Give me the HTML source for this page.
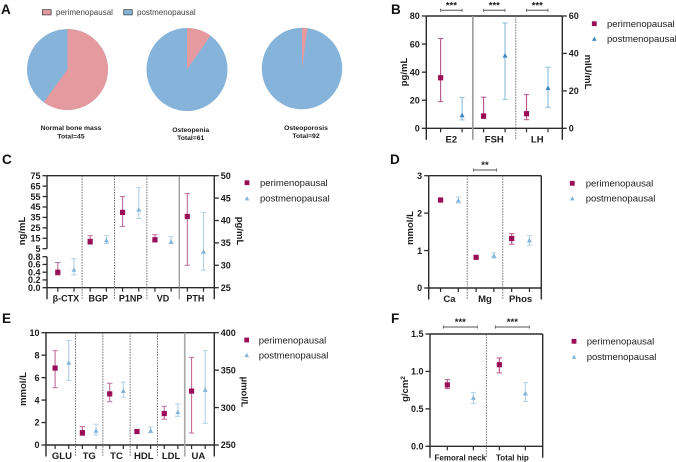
<!DOCTYPE html>
<html>
<head>
<meta charset="utf-8">
<style>
html,body{margin:0;padding:0;background:#fff;}
body{width:676px;height:462px;overflow:hidden;}
svg{display:block;filter:blur(0.35px);}
text{font-family:"Liberation Sans",sans-serif;fill:#1c1c1c;}
</style>
</head>
<body>
<svg id="figure" xmlns="http://www.w3.org/2000/svg" width="676" height="462" viewBox="0 0 676 462"></svg>
<script>
// Panel A data
const pieNames = ['Normal bone mass', 'Osteopenia', 'Osteoporosis'];
const pieTotals = [45, 61, 92];
const piePeri = [27, 6, 2];

// Panel B data
const bCategories = ['E2', 'FSH', 'LH'];
const bAxes = ['left', 'right', 'right'];
const bPeri = [36, 6.6, 7.8];
const bPeriLow = [19, 5.2, 4.6];
const bPeriHigh = [64, 16.6, 18];
const bPost = [9.5, 39, 21.7];
const bPostLow = [6, 15.5, 11.2];
const bPostHigh = [22, 56.3, 32.6];
const bLeftTicks = [0, 20, 40, 60, 80];
const bRightTicks = [0, 20, 40, 60];

// Panel C data
const cCategories = ['β-CTX', 'BGP', 'P1NP', 'VD', 'PTH'];
const cAxes = ['lower', 'upper', 'upper', 'upper', 'right'];
const cPeri = [0.4, 12, 39.8, 13.6, 40.9];
const cPeriLow = [0.33, 9.2, 26.4, 11.4, 30];
const cPeriHigh = [0.65, 17.5, 55, 18.4, 46];
const cPost = [0.47, 13.3, 42.7, 12, 33.1];
const cPostLow = [0.33, 10, 34, 10, 28.9];
const cPostHigh = [0.75, 17.5, 63.5, 16.5, 41.8];
const cUpperTicks = [5, 15, 25, 35, 45, 55, 65, 75];
const cLowerTicks = ['0.0', '0.2', '0.4', '0.6', '0.8'];
const cRightTicks = [25, 30, 35, 40, 45, 50];

// Panel D data
const dCategories = ['Ca', 'Mg', 'Phos'];
const dAxes = ['left', 'left', 'left'];
const dPeri = [2.35, 0.82, 1.32];
const dPeriLow = [2.31, 0.79, 1.17];
const dPeriHigh = [2.39, 0.85, 1.45];
const dPost = [2.35, 0.87, 1.28];
const dPostLow = [2.27, 0.8, 1.14];
const dPostHigh = [2.43, 0.94, 1.4];
const dLeftTicks = [0, 1, 2, 3];

// Panel E data
const eCategories = ['GLU', 'TG', 'TC', 'HDL', 'LDL', 'UA'];
const eAxes = ['left', 'left', 'left', 'left', 'left', 'right'];
const ePeri = [6.85, 1.1, 4.55, 1.2, 2.8, 322];
const ePeriLow = [5.1, 0.85, 3.85, 1.1, 2.3, 266];
const ePeriHigh = [8.4, 1.65, 5.5, 1.3, 3.45, 367];
const ePost = [7.35, 1.3, 4.85, 1.3, 2.95, 324];
const ePostLow = [5.75, 0.9, 4.25, 1.1, 2.55, 279];
const ePostHigh = [9.3, 1.85, 5.6, 1.6, 3.65, 376];
const eLeftTicks = [0, 2, 4, 6, 8, 10];
const eRightTicks = [250, 300, 350, 400];

// Panel F data
const fCategories = ['Femoral neck', 'Total hip'];
const fAxes = ['left', 'left'];
const fPeri = [0.82, 1.09];
const fPeriLow = [0.77, 0.98];
const fPeriHigh = [0.89, 1.18];
const fPost = [0.65, 0.71];
const fPostLow = [0.57, 0.6];
const fPostHigh = [0.72, 0.85];
const fLeftTicks = ['0.0', '0.5', '1.0', '1.5'];

const svg = document.getElementById('figure');
const NS = 'http://www.w3.org/2000/svg';
const INK = '#2b2b2b';
const PERI = '#990f57';

function mk(parent, tag, name, active, attrs, content) {
  const el = document.createElementNS(NS, tag);
  
  
  for (const k in attrs) el.setAttribute(k, attrs[k]);
  if (content !== undefined) el.textContent = content;
  parent.appendChild(el);
  return el;
}
function line(g, name, x1, y1, x2, y2, stroke, width, dash) {
  const a = {x1: x1, y1: y1, x2: x2, y2: y2, stroke: stroke, 'stroke-width': width};
  if (dash) a['stroke-dasharray'] = dash;
  return mk(g, 'line', name, false, a);
}
function linear(d0, d1, r0, r1) {
  return function (v) { return r0 + (Number(v) - d0) * (r1 - r0) / (d1 - d0); };
}
function marker(g, name, kind, x, y, color, s) {
  if (kind === 'square') {
    mk(g, 'rect', name, false, {x: x - s / 2, y: y - s / 2, width: s, height: s, fill: color});
  } else {
    const h = s * 0.92;
    mk(g, 'polygon', name, false, {points: (x - s / 2) + ',' + (y + h / 2) + ' ' + (x + s / 2) + ',' + (y + h / 2) + ' ' + x + ',' + (y - h / 2), fill: color});
  }
}
function errorBar(g, name, x, yLow, yHigh, color) {
  line(g, name + '-stem', x, yLow, x, yHigh, color, 1.15);
  line(g, name + '-cap-low', x - 2.7, yLow, x + 2.7, yLow, color, 1);
  line(g, name + '-cap-high', x - 2.7, yHigh, x + 2.7, yHigh, color, 1);
}
function panelLetter(letter, x, y) {
  mk(svg, 'text', 'panel-label-' + letter.toLowerCase(), false, {x: x, y: y, 'font-size': 13.5, 'font-weight': 'bold', style: 'fill:#111'}, letter);
}
function legend(g, mx, tx, y1, y2, postColor) {
  marker(g, 'legend-marker-perimenopausal', 'square', mx, y1, PERI, 4.8);
  mk(g, 'text', 'legend-label-perimenopausal', false, {x: tx, y: y1 + 3.3, 'font-size': 9.5}, 'perimenopausal');
  marker(g, 'legend-marker-postmenopausal', 'triangle', mx, y2, postColor, 4.6);
  mk(g, 'text', 'legend-label-postmenopausal', false, {x: tx, y: y2 + 3.3, 'font-size': 9.5}, 'postmenopausal');
}
function tickLabels(g, prefix, ticks, scale, x, side) {
  ticks.forEach(function (t) {
    const y = scale(t);
    const dir = side === 'left' ? -1 : 1;
    line(g, prefix + '-tick-' + t, x, y, x + dir * 4.5, y, INK, 1.3);
    mk(g, 'text', prefix + '-tick-label-' + t, false, {
      x: x + dir * 6.5, y: y + 3.2, 'font-size': 9, 'font-weight': 'bold',
      'text-anchor': side === 'left' ? 'end' : 'start'
    }, String(t));
  });
}
function drawPanel(p) {
  const g = mk(svg, 'g', 'panel-' + p.id + '-chart', false, {});
  const n = p.categories.length * 2;
  const step = (p.right - p.left) / (n - 1 + 4 / 3);
  const px = function (i) { return p.left + step * 2 / 3 + i * step; };
  const tail = p.bottom + 11.5;

  // frame
  line(g, 'panel-' + p.id + '-top-border', p.left, p.top, p.right, p.top, INK, 1.4);
  line(g, 'panel-' + p.id + '-baseline', p.left, p.bottom, p.right, p.bottom, INK, 1.4);
  line(g, 'panel-' + p.id + '-right-spine', p.right, p.top, p.right, tail, INK, 1.4);
  if (p.breakGap) {
    line(g, 'panel-c-left-spine-upper', p.left, p.top, p.left, p.breakGap[0], INK, 1.4);
    line(g, 'panel-c-left-spine-lower', p.left, p.breakGap[1], p.left, tail, INK, 1.4);
  } else {
    line(g, 'panel-' + p.id + '-left-spine', p.left, p.top, p.left, tail, INK, 1.4);
  }

  // separators
  p.categories.slice(1).forEach(function (c, i) {
    const x = px((i + 1) * 2 - 0.5);
    if (p.heavySep === i) line(g, 'panel-' + p.id + '-separator-' + i, x, p.top, x, tail, p.heavyColor, p.heavyWidth);
    else line(g, 'panel-' + p.id + '-separator-' + i, x, p.top, x, tail, '#666', 0.9, '1.6 1.1');
  });

  // x ticks + categories
  p.categories.forEach(function (c, i) {
    line(g, 'panel-' + p.id + '-xtick-' + c + '-a', px(2 * i), p.bottom, px(2 * i), p.bottom + 4, INK, 1.2);
    line(g, 'panel-' + p.id + '-xtick-' + c + '-b', px(2 * i + 1), p.bottom, px(2 * i + 1), p.bottom + 4, INK, 1.2);
    mk(g, 'text', 'panel-' + p.id + '-category-' + c, false, {
      x: (px(2 * i) + px(2 * i + 1)) / 2, y: p.bottom + 14, 'font-size': p.catSize, 'font-weight': 'bold', 'text-anchor': 'middle'
    }, c);
  });

  // axes
  p.axes.forEach(function (a) {
    tickLabels(g, 'panel-' + p.id + '-' + a.key, a.ticks, p.scales[a.key], a.side === 'left' ? p.left : p.right, a.side);
  });

  // axis titles
  const midL = p.leftTitleY;
  mk(g, 'text', 'panel-' + p.id + '-y-axis-title', false, {
    x: p.leftTitleX, y: midL, 'font-size': 9.5, 'font-weight': 'bold', 'text-anchor': 'middle',
    transform: 'rotate(-90 ' + p.leftTitleX + ' ' + midL + ')'
  }, p.leftTitle);
  if (p.sup) {
    const t = g.lastChild;
    const sp = document.createElementNS(NS, 'tspan');
    
    
    sp.setAttribute('dy', '-3');
    sp.setAttribute('font-size', '6.5');
    sp.textContent = p.sup;
    t.appendChild(sp);
  }
  if (p.rightTitle) {
    mk(g, 'text', 'panel-' + p.id + '-right-axis-title', false, {
      x: p.rightTitleX, y: p.rightTitleY, 'font-size': 9.5, 'font-weight': 'bold', 'text-anchor': 'middle',
      transform: 'rotate(90 ' + p.rightTitleX + ' ' + p.rightTitleY + ')'
    }, p.rightTitle);
  }

  // data
  p.categories.forEach(function (c, i) {
    const y = p.scales[p.axisOf[i]];
    errorBar(g, 'panel-' + p.id + '-' + c + '-perimenopausal-error', px(2 * i), y(p.periLow[i]), y(p.periHigh[i]), p.periBar);
    errorBar(g, 'panel-' + p.id + '-' + c + '-postmenopausal-error', px(2 * i + 1), y(p.postLow[i]), y(p.postHigh[i]), p.postBar);
    marker(g, 'panel-' + p.id + '-' + c + '-perimenopausal-point', 'square', px(2 * i), y(p.peri[i]), PERI, 5.2);
    marker(g, 'panel-' + p.id + '-' + c + '-postmenopausal-point', 'triangle', px(2 * i + 1), y(p.post[i]), p.postColor, 5);
  });

  // significance brackets
  (p.brackets || []).forEach(function (b) {
    const x1 = px(b.cat * 2) - p.bracketPad, x2 = px(b.cat * 2 + 1) + p.bracketPad;
    const name = 'panel-' + p.id + '-significance-' + p.categories[b.cat];
    line(g, name + '-bar', x1, p.bracketY, x2, p.bracketY, '#555', 1);
    line(g, name + '-end-a', x1, p.bracketY - 1.6, x1, p.bracketY + 1.6, '#555', 0.8);
    line(g, name + '-end-b', x2, p.bracketY - 1.6, x2, p.bracketY + 1.6, '#555', 0.8);
    mk(g, 'text', name + '-stars', false, {
      x: (x1 + x2) / 2, y: p.bracketY - 1.8, 'font-size': 9.5, 'font-weight': 'bold', 'text-anchor': 'middle'
    }, b.stars);
  });

  legend(g, p.legend[0], p.legend[1], p.legend[2], p.legend[3], p.postColor);
}

// ---- Panel A ----
panelLetter('A', 1, 14);
const gA = mk(svg, 'g', 'panel-a-chart', false, {});
mk(gA, 'rect', 'legend-swatch-perimenopausal', false, {x: 42.5, y: 9.7, width: 8.6, height: 5.2, fill: '#e59a9f', stroke: '#333', 'stroke-width': 0.7});
mk(gA, 'text', 'legend-label-perimenopausal', false, {x: 56, y: 15.2, 'font-size': 8, style: 'fill:#444'}, 'perimenopausal');
mk(gA, 'rect', 'legend-swatch-postmenopausal', false, {x: 123.7, y: 9.7, width: 8.6, height: 5.2, fill: '#86b3d9', stroke: '#333', 'stroke-width': 0.7});
mk(gA, 'text', 'legend-label-postmenopausal', false, {x: 137, y: 15.2, 'font-size': 8, style: 'fill:#444'}, 'postmenopausal');

const pieGeom = [
  {cx: 67.5, cy: 69.5, rx: 40.5, ry: 40.5, tx: 71, t1: 130.2, t2: 138.6},
  {cx: 187, cy: 69.5, rx: 40.5, ry: 41.5, tx: 190.7, t1: 131.8, t2: 140.2},
  {cx: 302, cy: 68.5, rx: 40.2, ry: 40.8, tx: 306, t1: 129.8, t2: 138}
];
pieNames.forEach(function (name, i) {
  const g = pieGeom[i];
  const key = name.toLowerCase().replace(/ /g, '-');
  const frac = piePeri[i] / pieTotals[i];
  const ang = frac * 2 * Math.PI;
  const ex = g.cx + g.rx * Math.sin(ang), ey = g.cy - g.ry * Math.cos(ang);
  mk(gA, 'ellipse', 'pie-' + key + '-postmenopausal-slice', false, {cx: g.cx, cy: g.cy, rx: g.rx, ry: g.ry, fill: '#86b3d9'});
  mk(gA, 'path', 'pie-' + key + '-perimenopausal-slice', false, {
    d: 'M' + g.cx + ' ' + g.cy + ' L' + g.cx + ' ' + (g.cy - g.ry) +
       ' A' + g.rx + ' ' + g.ry + ' 0 ' + (frac > 0.5 ? 1 : 0) + ' 1 ' + ex + ' ' + ey + ' Z',
    fill: '#e59a9f'
  });
  mk(gA, 'text', 'pie-' + key + '-title', false, {x: g.tx, y: g.t1, 'font-size': 6.8, 'font-weight': 'bold', 'text-anchor': 'middle'}, name);
  mk(gA, 'text', 'pie-' + key + '-total', false, {x: g.tx, y: g.t2, 'font-size': 6.8, 'font-weight': 'bold', 'text-anchor': 'middle'}, 'Total=' + pieTotals[i]);
});

// ---- Panel B ----
panelLetter('B', 391, 14);
drawPanel({
  id: 'b', categories: bCategories, axisOf: bAxes,
  peri: bPeri, periLow: bPeriLow, periHigh: bPeriHigh, post: bPost, postLow: bPostLow, postHigh: bPostHigh,
  left: 426.3, right: 562.3, top: 16, bottom: 128.3, catSize: 9.5,
  scales: {left: linear(0, 80, 128.3, 16), right: linear(0, 60, 128.3, 16)},
  axes: [{key: 'left', ticks: bLeftTicks, side: 'left'}, {key: 'right', ticks: bRightTicks, side: 'right'}],
  leftTitle: 'pg/mL', leftTitleX: 407, leftTitleY: 72,
  rightTitle: 'mIU/mL', rightTitleX: 585, rightTitleY: 72,
  heavySep: 0, heavyColor: '#9c9c9c', heavyWidth: 1.6,
  periBar: '#b8588b', postBar: '#8fbfdc', postColor: '#3f87c2',
  brackets: [{cat: 0, stars: '***'}, {cat: 1, stars: '***'}, {cat: 2, stars: '***'}],
  bracketY: 10.3, bracketPad: 0,
  legend: [594.3, 607, 23.7, 38.7]
});

// ---- Panel C ----
panelLetter('C', 2, 164);
drawPanel({
  id: 'c', categories: cCategories, axisOf: cAxes,
  peri: cPeri, periLow: cPeriLow, periHigh: cPeriHigh, post: cPost, postLow: cPostLow, postHigh: cPostHigh,
  left: 47, right: 214.3, top: 175.7, bottom: 287.7, catSize: 9,
  breakGap: [248.7, 256.7],
  scales: {
    upper: linear(5, 75, 248.7, 175.7),
    lower: linear(0, 0.8, 287.7, 256.7),
    right: linear(25, 50, 287.7, 175.7)
  },
  axes: [
    {key: 'upper', ticks: cUpperTicks, side: 'left'},
    {key: 'lower', ticks: cLowerTicks, side: 'left'},
    {key: 'right', ticks: cRightTicks, side: 'right'}
  ],
  leftTitle: 'ng/mL', leftTitleX: 25, leftTitleY: 231,
  rightTitle: 'pg/mL', rightTitleX: 237, rightTitleY: 231,
  heavySep: 3, heavyColor: '#777', heavyWidth: 1,
  periBar: '#c0709c', postBar: '#b5d3e6', postColor: '#84b5d8',
  legend: [247, 260, 182.7, 198.3]
});

// ---- Panel D ----
panelLetter('D', 390, 164);
drawPanel({
  id: 'd', categories: dCategories, axisOf: dAxes,
  peri: dPeri, periLow: dPeriLow, periHigh: dPeriHigh, post: dPost, postLow: dPostLow, postHigh: dPostHigh,
  left: 428.7, right: 541.3, top: 175.7, bottom: 288, catSize: 9.5,
  scales: {left: linear(0, 3, 288, 175.7)},
  axes: [{key: 'left', ticks: dLeftTicks, side: 'left'}],
  leftTitle: 'mmol/L', leftTitleX: 413, leftTitleY: 228,
  periBar: '#b8588b', postBar: '#b5d3e6', postColor: '#84b5d8',
  brackets: [{cat: 1, stars: '**'}],
  bracketY: 170, bracketPad: 2.6,
  legend: [572.3, 585.7, 183.3, 198.3]
});

// ---- Panel E ----
panelLetter('E', 2, 323);
drawPanel({
  id: 'e', categories: eCategories, axisOf: eAxes,
  peri: ePeri, periLow: ePeriLow, periHigh: ePeriHigh, post: ePost, postLow: ePostLow, postHigh: ePostHigh,
  left: 46, right: 214.3, top: 332.7, bottom: 445, catSize: 9.5,
  scales: {left: linear(0, 10, 445, 332.7), right: linear(250, 400, 445, 332.7)},
  axes: [{key: 'left', ticks: eLeftTicks, side: 'left'}, {key: 'right', ticks: eRightTicks, side: 'right'}],
  leftTitle: 'mmol/L', leftTitleX: 26, leftTitleY: 389,
  rightTitle: 'µmol/L', rightTitleX: 241.5, rightTitleY: 392,
  heavySep: 4, heavyColor: '#a8a8a8', heavyWidth: 1.6,
  periBar: '#c0709c', postBar: '#b5d3e6', postColor: '#84b5d8',
  legend: [246.7, 258.7, 340, 355]
});

// ---- Panel F ----
panelLetter('F', 391, 323);
drawPanel({
  id: 'f', categories: fCategories, axisOf: fAxes,
  peri: fPeri, periLow: fPeriLow, periHigh: fPeriHigh, post: fPost, postLow: fPostLow, postHigh: fPostHigh,
  left: 430, right: 542.7, top: 334, bottom: 446.3, catSize: 8,
  scales: {left: linear(0, 1.5, 446.3, 334)},
  axes: [{key: 'left', ticks: fLeftTicks, side: 'left'}],
  leftTitle: 'g/cm', sup: '2', leftTitleX: 408, leftTitleY: 389,
  periBar: '#b8588b', postBar: '#b5d3e6', postColor: '#84b5d8',
  brackets: [{cat: 0, stars: '***'}, {cat: 1, stars: '***'}],
  bracketY: 327, bracketPad: 4,
  legend: [574, 586.7, 341.3, 356.7]
});
</script>
</body>
</html>
